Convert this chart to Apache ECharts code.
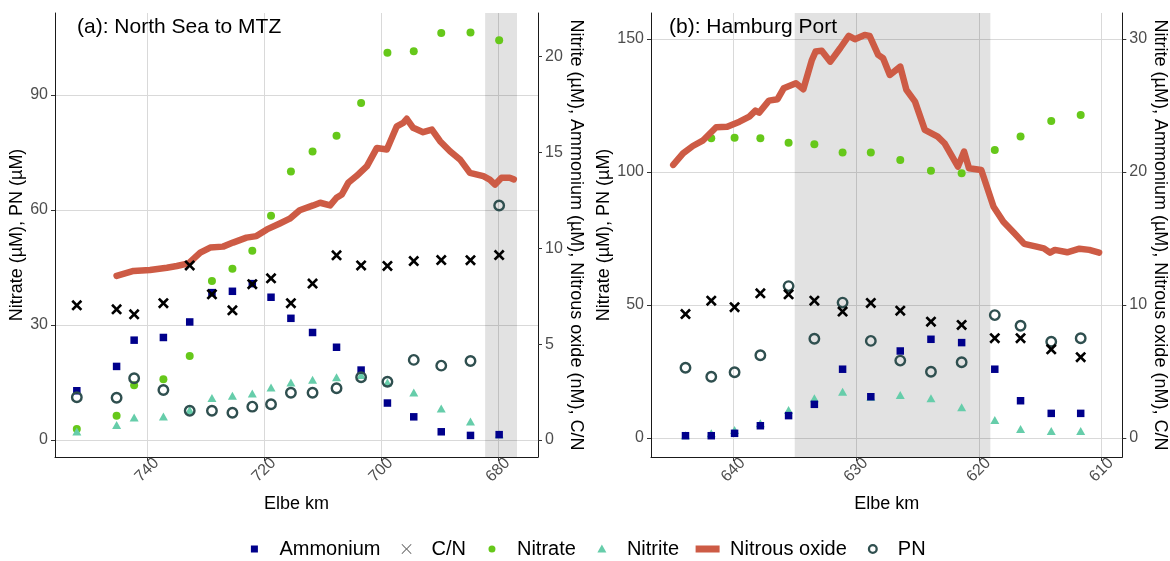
<!DOCTYPE html>
<html><head><meta charset="utf-8">
<script src="https://cdn.jsdelivr.net/npm/echarts@6/dist/echarts.min.js"></script>
<style>html,body{margin:0;padding:0;background:#fff}#c{width:1170px;height:561px}</style>
</head><body><div id="c"></div>
<script>
// ---------- Panel (a): North Sea to MTZ ----------
const kmA = [752.0, 745.2, 742.2, 737.2, 732.7, 728.9, 725.4, 722.0, 718.8, 715.4, 711.7, 707.6, 703.4, 698.9, 694.4, 689.7, 684.7, 679.8];
const ammoniumA = [2.57, 3.84, 5.21, 5.35, 6.16, 7.69, 7.76, 8.16, 7.45, 6.35, 5.61, 4.84, 3.65, 1.93, 1.21, 0.43, 0.24, 0.28];
const cnA = [7.03, 6.82, 6.56, 7.14, 9.11, 7.60, 6.77, 8.13, 8.44, 7.14, 8.16, 9.64, 9.11, 9.08, 9.34, 9.39, 9.38, 9.65];
const nitrateA = [2.87, 6.34, 14.28, 15.85, 21.93, 41.5, 44.7, 49.35, 58.5, 70.05, 75.3, 79.4, 87.9, 101.0, 101.4, 106.2, 106.3, 104.3];
const nitriteA = [0.45, 0.78, 1.18, 1.23, 1.56, 2.19, 2.31, 2.43, 2.74, 3.0, 3.14, 3.27, 3.39, 3.0, 2.48, 1.65, 0.97, 0.3];
const pnA = [11.15, 11.04, 16.1, 13.05, 7.65, 7.65, 7.13, 8.7, 9.32, 12.35, 12.35, 13.5, 16.37, 15.2, 20.9, 19.4, 20.6, 61.2];
const n2oKmA = [745.2, 742.3, 739.5, 736.6, 734.9, 732.9, 730.9, 729.2, 727.0, 725.3, 723.0, 721.3, 719.5, 717.3, 715.6, 713.9, 711.6, 710.4, 708.7, 707.6, 706.7, 705.6, 704.2, 702.4, 700.7, 699.0, 697.3, 696.2, 695.6, 694.5, 692.8, 691.3, 689.9, 688.2, 686.5, 684.8, 682.5, 681.4, 680.5, 679.4, 678.0, 677.3];
const n2oA = [8.56, 8.82, 8.87, 8.99, 9.08, 9.22, 9.78, 10.04, 10.09, 10.30, 10.56, 10.64, 10.99, 11.30, 11.55, 11.99, 12.24, 12.38, 12.24, 12.64, 12.81, 13.42, 13.77, 14.29, 15.24, 15.16, 16.37, 16.55, 16.76, 16.29, 16.06, 16.2, 15.59, 15.07, 14.64, 13.94, 13.77, 13.59, 13.33, 13.68, 13.68, 13.6];
const shadeA = [682.2, 676.75];
const xRangeA = [673.16, 755.73];
const yLeftRangeA = [-4.43, 111.4];
const yRightRangeA = [-0.886, 22.28];
const xTicksA = [680, 700, 720, 740];
const yLeftTicksA = [0, 30, 60, 90];
const yRightTicksA = [0, 5, 10, 15, 20];

// ---------- Panel (b): Hamburg Port ----------
const kmB = [643.9, 641.8, 639.9, 637.8, 635.5, 633.4, 631.1, 628.8, 626.4, 623.9, 621.4, 618.7, 616.6, 614.1, 611.7];
const ammoniumB = [0.17, 0.17, 0.35, 0.92, 1.68, 2.53, 5.17, 3.1, 6.54, 7.42, 7.17, 5.17, 2.8, 1.85, 1.85];
const cnB = [9.32, 10.32, 9.83, 10.88, 10.8, 10.32, 9.5, 10.15, 9.57, 8.74, 8.5, 7.5, 7.5, 6.67, 6.07];
const nitrateB = [null, 112.7, 112.9, 112.7, 111.0, 110.4, 107.3, 107.3, 104.5, 100.5, 99.5, 108.3, 113.3, 119.2, 121.4];
const nitriteB = [0.2, 0.35, 0.6, 1.1, 2.1, 2.98, 3.48, 3.1, 3.23, 2.98, 2.31, 1.35, 0.68, 0.53, 0.53];
const pnB = [26.4, 23.0, 24.7, 31.1, 57.1, 37.3, 50.9, 36.5, 29.1, 24.9, 28.5, 46.2, 42.2, 36.2, 37.5];
const n2oKmB = [644.9, 644.1, 643.3, 642.5, 641.4, 640.5, 639.5, 638.7, 638.2, 637.9, 637.1, 636.4, 635.9, 634.9, 634.3, 633.6, 633.3, 632.8, 632.1, 631.3, 630.6, 630.1, 629.3, 628.9, 628.2, 627.8, 627.25, 626.4, 625.9, 625.2, 624.4, 623.35, 622.8, 621.7, 621.2, 620.8, 619.8, 618.8, 618.0, 617.1, 616.3, 615.3, 614.7, 614.2, 613.8, 612.8, 611.8, 611.0, 610.2];
const n2oB = [20.53, 21.4, 21.95, 22.35, 23.36, 23.4, 23.78, 24.16, 24.61, 24.46, 25.36, 25.47, 26.29, 26.67, 26.22, 28.42, 29.05, 29.12, 28.29, 29.3, 30.23, 29.98, 30.3, 30.23, 28.8, 28.55, 27.29, 27.92, 26.17, 25.29, 23.16, 22.65, 22.16, 20.4, 21.53, 20.28, 20.15, 17.39, 16.26, 15.39, 14.59, 14.38, 14.26, 13.93, 14.14, 13.96, 14.23, 14.14, 13.93];
const shadeB = [635.0, 619.06];
const xRangeB = [608.31, 646.71];
const yLeftRangeB = [-7.14, 159.77];
const yRightRangeB = [-1.43, 31.95];
const xTicksB = [610, 620, 630, 640];
const yLeftTicksB = [0, 50, 100, 150];
const yRightTicksB = [0, 10, 20, 30];

const seriesNames = ['Ammonium', 'C/N', 'Nitrate', 'Nitrite', 'Nitrous oxide', 'PN'];
const titles = ['(a): North Sea to MTZ', '(b): Hamburg Port'];
const xName = 'Elbe km';
const yLeftName = 'Nitrate (µM), PN (µM)';
const yRightName = 'Nitrite (µM), Ammonium (µM), Nitrous oxide (nM), C/N';

const FONT = '"Liberation Sans", Arial, Helvetica, sans-serif';
const COL = {amm: '#00008b', cn: '#000000', nitrate: '#66c81a', nitrite: '#66cdaa', n2o: '#cd5b45', pn: '#2f4f4f'};
const crossSym = 'path://M0,1.7L1.7,0L5,3.3L8.3,0L10,1.7L6.7,5L10,8.3L8.3,10L5,6.7L1.7,10L0,8.3L3.3,5Z';

function pairs(xs, ys) {
  const out = [];
  xs.forEach((x, i) => { if (ys[i] !== null && ys[i] !== undefined) out.push([x, ys[i]]); });
  return out;
}

function xAxisDef(grid, range, ticks) {
  return {
    gridIndex: grid, type: 'value', inverse: true, min: range[0], max: range[1],
    name: xName, nameLocation: 'middle', nameGap: 38,
    nameTextStyle: {fontSize: 18, color: '#000', fontFamily: FONT},
    axisLine: {show: true, onZero: false, lineStyle: {color: '#1a1a1a', width: 1}},
    axisTick: {show: true, length: 4, customValues: ticks, lineStyle: {color: '#333'}},
    axisLabel: {customValues: ticks, rotate: 45, align: 'center', verticalAlign: 'middle', margin: 13,
      fontSize: 16, color: '#4d4d4d', fontFamily: FONT},
    splitLine: {show: true, lineStyle: {color: '#d9d9d9', width: 1}}
  };
}
function yAxisDef(grid, pos, range, ticks, name, gap, split) {
  return {
    gridIndex: grid, type: 'value', position: pos, min: range[0], max: range[1],
    name: name, nameLocation: 'middle', nameRotate: pos === 'left' ? 90 : -90, nameGap: gap,
    nameTextStyle: {fontSize: 18, color: '#000', fontFamily: FONT},
    axisLine: {show: true, onZero: false, lineStyle: {color: '#1a1a1a', width: 1}},
    axisTick: {show: true, length: 4, customValues: ticks, lineStyle: {color: '#333'}},
    axisLabel: {customValues: ticks, margin: 7, fontSize: 16, color: '#4d4d4d', fontFamily: FONT},
    splitLine: {show: split, lineStyle: {color: '#d9d9d9', width: 1}}
  };
}

function panelSeries(xi, yl, yr, d) {
  return [
    {name: 'shade' + xi, type: 'line', xAxisIndex: xi, yAxisIndex: yl, data: [], z: 1, silent: true,
      markArea: {silent: true, itemStyle: {color: 'rgba(0,0,0,0.115)'},
        data: [[{xAxis: d.shade[0]}, {xAxis: d.shade[1]}]]}},
    {name: 'Nitrate', type: 'scatter', xAxisIndex: xi, yAxisIndex: yl, z: 2,
      data: pairs(d.km, d.nitrate), symbol: 'circle', symbolSize: 8, itemStyle: {color: COL.nitrate, opacity: 1}},
    {name: 'Nitrous oxide', type: 'line', xAxisIndex: xi, yAxisIndex: yr, z: 3,
      data: pairs(d.n2oKm, d.n2o), showSymbol: false, symbol: 'none',
      lineStyle: {color: COL.n2o, width: 6.5, cap: 'round', join: 'round', opacity: 1}, itemStyle: {color: COL.n2o}},
    {name: 'Nitrite', type: 'scatter', xAxisIndex: xi, yAxisIndex: yr, z: 4,
      data: pairs(d.km, d.nitrite), symbol: 'triangle', symbolSize: [9, 8], itemStyle: {color: COL.nitrite, opacity: 1}},
    {name: 'Ammonium', type: 'scatter', xAxisIndex: xi, yAxisIndex: yr, z: 5,
      data: pairs(d.km, d.amm), symbol: 'rect', symbolSize: 7.5, itemStyle: {color: COL.amm, opacity: 1}},
    {name: 'PN', type: 'scatter', xAxisIndex: xi, yAxisIndex: yl, z: 6,
      data: pairs(d.km, d.pn), symbol: 'circle', symbolSize: 9.5,
      itemStyle: {color: 'rgba(0,0,0,0)', borderColor: COL.pn, borderWidth: 2.4, opacity: 1}},
    {name: 'C/N', type: 'scatter', xAxisIndex: xi, yAxisIndex: yr, z: 7,
      data: pairs(d.km, d.cn), symbol: crossSym, symbolSize: 11, itemStyle: {color: COL.cn, opacity: 1}}
  ];
}

// legend icons (box 30x14, symbol centred at x=10)
const pad = 'M0,0l0.01,0l0,0.01z M30,14l-0.01,0l0,-0.01z ';
const icons = {
  'Ammonium': 'path://' + pad + 'M6.5,3.5h7v7h-7z',
  'C/N': 'path://' + pad + 'M5,2.6L5.6,2L10,6.4L14.4,2L15,2.6L10.6,7L15,11.4L14.4,12L10,7.6L5.6,12L5,11.4L9.4,7Z',
  'Nitrate': 'path://' + pad + 'M6.5,7a3.5,3.5 0 1,0 7,0a3.5,3.5 0 1,0 -7,0z',
  'Nitrite': 'path://' + pad + 'M10,2.5L14.5,10.5L5.5,10.5z',
  'Nitrous oxide': 'path://' + pad + 'M0.5,3.5h24v7h-24z',
  'PN': 'path://' + pad + 'M5,7a5,5 0 1,0 10,0a5,5 0 1,0 -10,0z M7.3,7a2.7,2.7 0 1,1 5.4,0a2.7,2.7 0 1,1 -5.4,0z'
};
const iconColors = {'Ammonium': COL.amm, 'C/N': '#555', 'Nitrate': COL.nitrate, 'Nitrite': COL.nitrite, 'Nitrous oxide': COL.n2o, 'PN': COL.pn};

const chart = echarts.init(document.getElementById('c'), null, {renderer: 'canvas'});
chart.setOption({
  animation: false,
  backgroundColor: '#ffffff',
  textStyle: {fontFamily: FONT},
  title: [
    {text: titles[0], left: 77, top: 17, padding: 0, textStyle: {fontSize: 21, fontWeight: 'normal', color: '#000', fontFamily: FONT}},
    {text: titles[1], left: 669, top: 17, padding: 0, textStyle: {fontSize: 21, fontWeight: 'normal', color: '#000', fontFamily: FONT}}
  ],
  legend: {
    top: 539, left: 'center', padding: 0, itemGap: 16, itemWidth: 30, itemHeight: 14,
    textStyle: {fontSize: 20, color: '#000', fontFamily: FONT, padding: [0, 0, 0, 0]},
    selectedMode: false,
    data: seriesNames.map(n => ({name: n, icon: icons[n], itemStyle: {color: iconColors[n], borderWidth: 0, opacity: 1}}))
  },
  grid: [
    {left: 55, right: 632, top: 13, bottom: 104, containLabel: false},
    {left: 651, right: 44, top: 13, bottom: 104, containLabel: false}
  ],
  xAxis: [xAxisDef(0, xRangeA, xTicksA), xAxisDef(1, xRangeB, xTicksB)],
  yAxis: [
    yAxisDef(0, 'left', yLeftRangeA, yLeftTicksA, yLeftName, 27, true),
    yAxisDef(0, 'right', yRightRangeA, yRightTicksA, yRightName, 18, false),
    yAxisDef(1, 'left', yLeftRangeB, yLeftTicksB, yLeftName, 30, true),
    yAxisDef(1, 'right', yRightRangeB, yRightTicksB, yRightName, 10, false)
  ],
  series: [].concat(
    panelSeries(0, 0, 1, {km: kmA, amm: ammoniumA, cn: cnA, nitrate: nitrateA, nitrite: nitriteA, pn: pnA, n2oKm: n2oKmA, n2o: n2oA, shade: shadeA}),
    panelSeries(1, 2, 3, {km: kmB, amm: ammoniumB, cn: cnB, nitrate: nitrateB, nitrite: nitriteB, pn: pnB, n2oKm: n2oKmB, n2o: n2oB, shade: shadeB})
  )
});
</script>
</body></html>
